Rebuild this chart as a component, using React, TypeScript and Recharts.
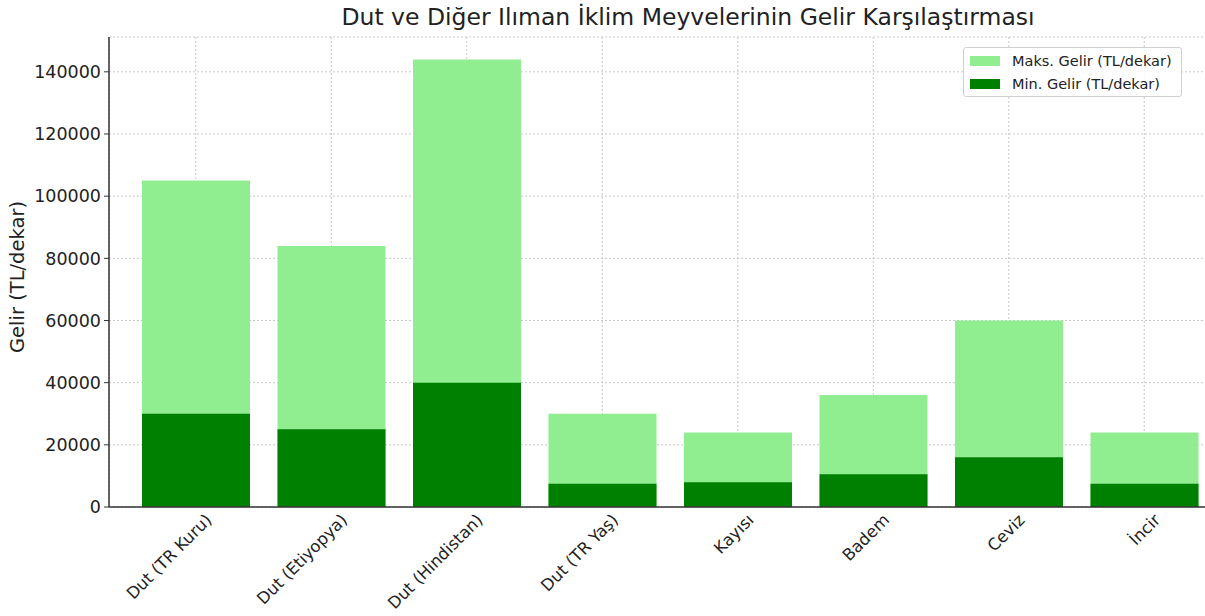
import { Bar, BarChart, CartesianGrid, XAxis, YAxis } from "recharts";

const categories = [
    "Dut (TR Kuru)",
    "Dut (Etiyopya)",
    "Dut (Hindistan)",
    "Dut (TR Yaş)",
    "Kayısı",
    "Badem",
    "Ceviz",
    "İncir",
];
const maxGelir = [105000, 84000, 144000, 30000, 24000, 36000, 60000, 24000];
const minGelir = [30000, 25000, 40000, 7500, 8000, 10500, 16000, 7500];
const yTicks = [0, 20000, 40000, 60000, 80000, 100000, 120000, 140000];

const maxLabel = "Maks. Gelir (TL/dekar)";
const minLabel = "Min. Gelir (TL/dekar)";

const data = categories.map((name, i) => ({ name, max: maxGelir[i], min: minGelir[i] }));

const font = "'DejaVu Sans', sans-serif";
const lightGreen = "#90ee90";
const darkGreen = "#008000";

function XTick(props: any) {
    const { x, y, payload } = props;
    const ax = x + 17;
    const ay = y + 6;
    return (
        <text
            x={ax}
            y={ay}
            textAnchor="end"
            fontFamily={font}
            fontSize={16.5}
            fill="#222"
            transform={`rotate(-45, ${ax}, ${ay})`}
        >
            {payload.value}
        </text>
    );
}

function LegendBox() {
    const items = [
        { label: maxLabel, color: lightGreen },
        { label: minLabel, color: darkGreen },
    ];
    return (
        <div
            style={{
                position: "absolute",
                left: 963,
                top: 47,
                width: 219,
                height: 50,
                boxSizing: "border-box",
                border: "1px solid #d0d0d0",
                borderRadius: 3,
                background: "rgba(255,255,255,0.85)",
                padding: "1px 0 0 6px",
                fontFamily: font,
                fontSize: 14.5,
                color: "#222",
            }}
        >
            {items.map((it) => (
                <div key={it.label} style={{ display: "flex", alignItems: "center", height: 23.5, whiteSpace: "nowrap" }}>
                    <span style={{ display: "inline-block", width: 30, height: 10, background: it.color, marginRight: 12 }} />
                    <span>{it.label}</span>
                </div>
            ))}
        </div>
    );
}

export default function App() {
    return (
        <div style={{ position: "absolute", left: 0, top: 0, width: 1205, height: 616, overflow: "hidden", background: "#fff" }}>
            <div
                style={{
                    position: "absolute",
                    left: 688,
                    top: 3,
                    transform: "translateX(-50%)",
                    whiteSpace: "nowrap",
                    fontFamily: font,
                    fontSize: 23.5,
                    color: "#222",
                }}
            >
                Dut ve Diğer Ilıman İklim Meyvelerinin Gelir Karşılaştırması
            </div>
            <BarChart
                width={1220}
                height={616}
                data={data}
                margin={{ top: 37, right: 0, left: 0, bottom: 0 }}
                barGap={-108}
            >
                <CartesianGrid stroke="#c8c8c8" strokeDasharray="2 2" />
                <XAxis
                    dataKey="name"
                    height={109}
                    interval={0}
                    padding={{ left: 19, right: 8 }}
                    tick={<XTick />}
                    tickLine={false}
                    axisLine={{ stroke: "#333", strokeWidth: 1.5 }}
                />
                <YAxis
                    width={109}
                    domain={[0, 151200]}
                    ticks={yTicks}
                    interval={0}
                    tickSize={5}
                    tickMargin={3}
                    tick={{ fontFamily: font, fontSize: 17.5, fill: "#222" }}
                    tickLine={{ stroke: "#333" }}
                    axisLine={{ stroke: "#333", strokeWidth: 1.5 }}
                    label={{
                        value: "Gelir (TL/dekar)",
                        angle: -90,
                        position: "insideLeft",
                        dx: 12,
                        dy: 5,
                        style: { fontFamily: font, fontSize: 19.5, fill: "#222", textAnchor: "middle" },
                    }}
                />
                <Bar dataKey="max" name={maxLabel} fill={lightGreen} barSize={108} isAnimationActive={false} />
                <Bar dataKey="min" name={minLabel} fill={darkGreen} barSize={108} isAnimationActive={false} />
            </BarChart>
            <LegendBox />
        </div>
    );
}
